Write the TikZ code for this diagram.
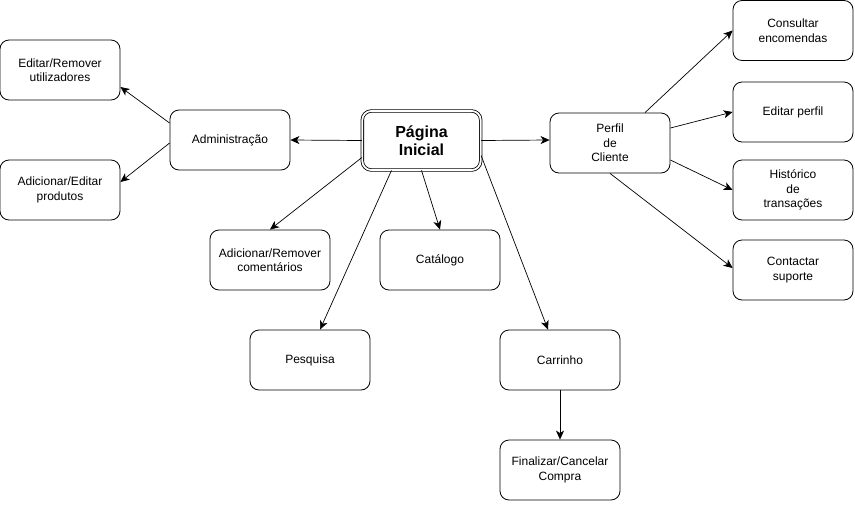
\documentclass[tikz,border=0pt]{standalone}
\usepackage{fontspec}
\setmainfont{Liberation Sans}
\usetikzlibrary{arrows.meta}

\begin{document}
\begin{tikzpicture}[x=1pt, y=-1pt,
    box/.style={draw, rounded corners=9pt, minimum width=120pt, minimum height=60pt, align=center, inner sep=2pt, line width=0.8pt, font=\fontsize{12}{14.5}\selectfont},
    home/.style={box, double, double distance=1.8pt, minimum width=118.4pt, minimum height=59pt, font=\fontsize{16}{18}\selectfont\bfseries},
    arr/.style={-{Stealth[length=9pt,width=8pt,inset=2.5pt]}, line width=0.7pt}
]
\fill[white] (0,0) rectangle (855,504);
\useasboundingbox (0,0) rectangle (855,504);

\node[box] (edrem) at (60,70) {Editar/Remover\\utilizadores};
\node[box] (adprod) at (60,190) {Adicionar/Editar\\produtos};
\node[box] (adm) at (230,140) {Administração};
\node[home] (pag) at (421.5,140.5) {Página\\Inicial};
\node[box] (per) at (610,143) {Perfil\\de\\Cliente};
\node[box] (cons) at (793,30.5) {Consultar\\encomendas};
\node[box] (edp) at (793,112) {Editar perfil};
\node[box] (his) at (793,190) {Histórico\\de\\transações};
\node[box] (con) at (793,270) {Contactar\\suporte};
\node[box] (com) at (270,260) {Adicionar/Remover\\comentários};
\node[box] (cat) at (440,260) {Catálogo};
\node[box] (pes) at (310,360) {Pesquisa};
\node[box] (car) at (560,360) {Carrinho};
\node[box] (fin) at (560,470) {Finalizar/Cancelar\\Compra};

\draw[arr] (pag.west) -- (adm.east);
\draw[arr] ([yshift=17pt]adm.west) -- ([yshift=-17pt]edrem.east);
\draw[arr] ([yshift=-3pt]adm.west) -- ([yshift=8pt]adprod.east);
\draw[arr] ([yshift=-17pt]pag.west) -- (com.north);
\draw[arr] (pag.south) -- (cat.north);
\draw[arr] ([xshift=-30pt]pag.south) -- ([xshift=10pt]pes.north);
\draw[arr] ([yshift=-15pt]pag.east) -- ([xshift=-12pt]car.north);
\draw[arr] (pag.east) -- ([yshift=3pt]per.west);
\draw[arr] ([xshift=35pt]per.north) -- (cons.west);
\draw[arr] ([yshift=15pt]per.east) -- (edp.west);
\draw[arr] ([yshift=-17pt]per.east) -- (his.west);
\draw[arr] (per.south) -- ([yshift=2pt]con.west);
\draw[arr] (car.south) -- (fin.north);
\end{tikzpicture}
\end{document}
